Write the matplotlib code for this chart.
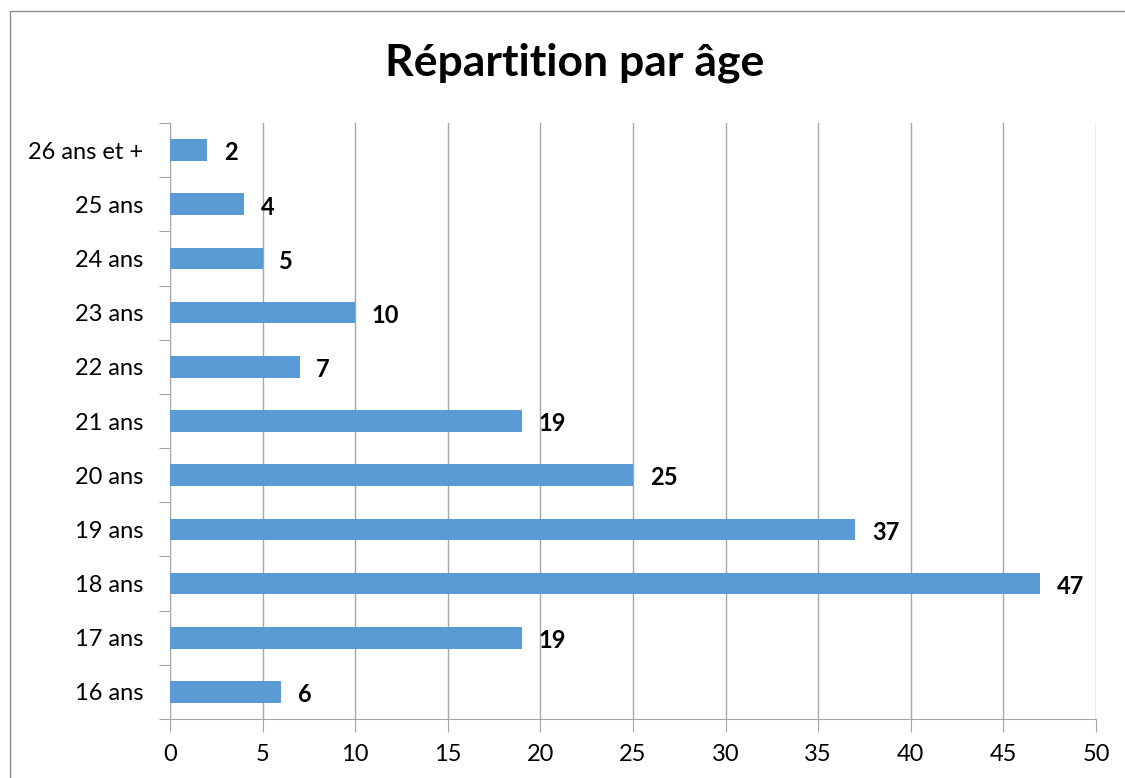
"""Répartition par âge — barres horizontales façon Excel."""

import matplotlib

matplotlib.use("Agg")
import matplotlib.pyplot as plt  # noqa: E402
from matplotlib.patches import Rectangle  # noqa: E402
import numpy as np  # noqa: E402

# --------------------------------------------------------------------------- #
# Données
# --------------------------------------------------------------------------- #
TITLE = "Répartition par âge"
CATEGORIES = ["16 ans", "17 ans", "18 ans", "19 ans", "20 ans", "21 ans",
              "22 ans", "23 ans", "24 ans", "25 ans", "26 ans et +"]
EFFECTIFS = [6, 19, 47, 37, 25, 19, 7, 10, 5, 4, 2]
X_TICKS = [0, 5, 10, 15, 20, 25, 30, 35, 40, 45, 50]

BAR_COLOR = "#5b9bd5"
GRID_COLOR = "#a6a6a6"
FONT = ["Lato", "DejaVu Sans"]

plt.rcParams["font.family"] = FONT

W, H = 1125, 778
fig = plt.figure(figsize=(W / 100, H / 100), dpi=100)

# cadre de la zone de graphique (coupé à droite et en bas)
fig.patches.append(Rectangle((10 / W, -0.1), 1.2, 1 - 11 / H + 0.1,
                             transform=fig.transFigure, fill=False,
                             edgecolor="#8c8c8c", linewidth=1.0))

ax = fig.add_axes([170 / W, 1 - 719 / H, (1096 - 170) / W, (719 - 123) / H])

y = np.arange(len(CATEGORIES))
ax.barh(y, EFFECTIFS, height=0.4, color=BAR_COLOR, zorder=3)

for yi, v in zip(y, EFFECTIFS):
    ax.annotate(str(v), (v, yi), xytext=(12, -2), textcoords="offset points",
                ha="left", va="center", fontsize=17, fontweight="bold",
                color="black")

ax.set_xlim(0, 50)
ax.set_ylim(-0.5, len(CATEGORIES) - 0.5)
ax.set_xticks(X_TICKS)
ax.set_xticklabels([str(t) for t in X_TICKS], fontsize=17)
ax.grid(axis="x", color=GRID_COLOR, linewidth=1.0, zorder=0)

# graduations aux frontières des catégories, libellés au centre
ax.set_yticks(np.arange(-0.5, len(CATEGORIES), 1.0))
ax.set_yticklabels([])
ax.set_yticks(y, minor=True)
ax.set_yticklabels(CATEGORIES, minor=True, fontsize=17)
ax.tick_params(axis="y", which="major", length=8, color=GRID_COLOR)
ax.tick_params(axis="y", which="minor", length=0, pad=19)
ax.tick_params(axis="x", length=9, color=GRID_COLOR, pad=9)

for side in ("top", "right"):
    ax.spines[side].set_visible(False)
for side in ("left", "bottom"):
    ax.spines[side].set_color(GRID_COLOR)

fig.text(575 / W, 1 - 63 / H, TITLE, ha="center", va="center",
         fontsize=32, fontweight="bold")

fig.savefig("out.png", dpi=100)
